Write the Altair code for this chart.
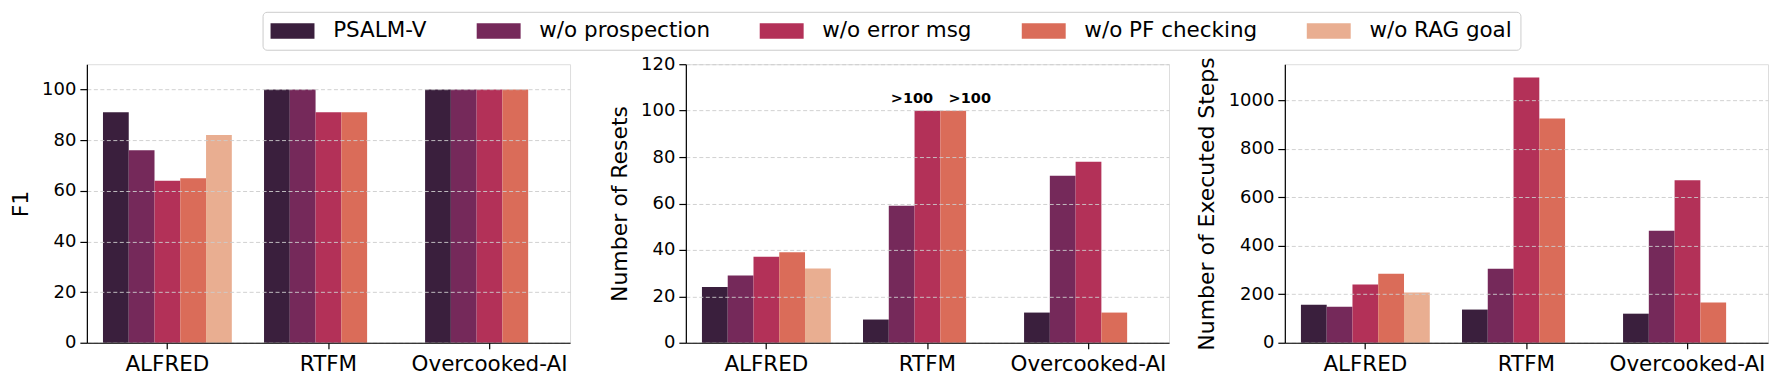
import altair as alt
import pandas as pd

categories = ["ALFRED", "RTFM", "Overcooked-AI"]
series = ["PSALM-V", "w/o prospection", "w/o error msg", "w/o PF checking", "w/o RAG goal"]
colors = ["#3a1f3d", "#75295a", "#b33158", "#da6c59", "#e9ae91"]

# values per series, in category order (None = not run)
f1_psalm = [91, 100, 100]
f1_prosp = [76, 100, 100]
f1_err = [64, 91, 100]
f1_pf = [65, 91, 100]
f1_rag = [82, None, None]

resets_psalm = [24, 10, 13]
resets_prosp = [29, 59, 72]
resets_err = [37, 100, 78]
resets_pf = [39, 100, 13]
resets_rag = [32, None, None]

steps_psalm = [157, 137, 120]
steps_prosp = [149, 305, 462]
steps_err = [240, 1095, 671]
steps_pf = [285, 926, 166]
steps_rag = [207, None, None]

over_label = ">100"
over_series = ["w/o error msg", "w/o PF checking"]
over_task = "RTFM"
over_value = 100

FONT = "DejaVu Sans"


def long_df(cols):
    rows = []
    for s, vals in zip(series, cols):
        for c, v in zip(categories, vals):
            if v is not None:
                rows.append({"task": c, "series": s, "value": v})
    return pd.DataFrame(rows)


df_f1 = long_df([f1_psalm, f1_prosp, f1_err, f1_pf, f1_rag])
df_res = long_df([resets_psalm, resets_prosp, resets_err, resets_pf, resets_rag])
df_steps = long_df([steps_psalm, steps_prosp, steps_err, steps_pf, steps_rag])

legend = alt.Legend(
    title=None,
    orient="none",
    legendX=176,
    legendY=-52.5,
    direction="horizontal",
    columns=5,
    symbolType="M-1,-0.7L3,-0.7L3,0.7L-1,0.7Z",
    symbolSize=484,
    symbolStrokeWidth=0,
    symbolOpacity=1,
    labelFontSize=21.5,
    labelFont=FONT,
    labelColor="black",
    labelOffset=40.7,
    labelLimit=400,
    columnPadding=49.5,
    padding=8,
    strokeColor="#cccccc",
    fillColor="white",
    cornerRadius=4,
)

X = alt.X(
    "task:N",
    sort=categories,
    scale=alt.Scale(domain=categories, paddingInner=0.2, paddingOuter=0.1),
    axis=alt.Axis(
        title=None, labelAngle=0, labelFontSize=21.5, labelFont=FONT, labelColor="black",
        tickColor="black", tickSize=6, tickWidth=1.2, labelPadding=5,
        domainColor="black", domainWidth=1.2, grid=False, zindex=2,
    ),
)
XO = alt.XOffset("series:N", sort=series,
                 scale=alt.Scale(domain=series, paddingInner=0, paddingOuter=0))


def yenc(title, ymax, vals):
    return alt.Y(
        "value:Q",
        scale=alt.Scale(domain=[0, ymax], nice=False, zero=True),
        axis=alt.Axis(
            title=title, values=vals, format="d", labelFontSize=18, labelFont=FONT,
            labelColor="black", tickSize=7, tickWidth=1.2, tickColor="black", labelPadding=4,
            titleFontSize=22, titleFont=FONT, titleFontWeight="normal", titleColor="black",
            titlePadding=9.3, grid=True, gridDash=[4, 2.5], gridColor="#cccccc",
            gridOpacity=0.9, gridWidth=1, domainColor="black", domainWidth=1.2, zindex=1,
        ),
    )


def bars(df, title, ymax, vals):
    return alt.Chart(df).mark_bar(strokeWidth=0).encode(
        x=X,
        xOffset=XO,
        y=yenc(title, ymax, vals),
        color=alt.Color("series:N", sort=series,
                        scale=alt.Scale(domain=series, range=colors), legend=legend),
    )


W, H = 484, 279

p1 = bars(df_f1, "F1", 110, [0, 20, 40, 60, 80, 100]).properties(width=W, height=H)

lbl_df = pd.DataFrame({"task": [over_task] * 2, "series": over_series,
                       "value": [over_value] * 2, "label": [over_label] * 2})
b2 = bars(df_res, "Number of Resets", 120, [0, 20, 40, 60, 80, 100, 120])
t_a = alt.Chart(lbl_df).transform_filter(alt.datum.series == over_series[0]).mark_text(
    font=FONT, fontSize=14.5, fontWeight="bold", color="black", align="center",
    baseline="alphabetic", dy=-7.5, dx=-15.5,
).encode(x=alt.X("task:N", sort=categories), xOffset=alt.XOffset("series:N", sort=series),
         y=alt.Y("value:Q"), text="label:N")
t_b = alt.Chart(lbl_df).transform_filter(alt.datum.series == over_series[1]).mark_text(
    font=FONT, fontSize=14.5, fontWeight="bold", color="black", align="center",
    baseline="alphabetic", dy=-7.5, dx=16.6,
).encode(x=alt.X("task:N", sort=categories), xOffset=alt.XOffset("series:N", sort=series),
         y=alt.Y("value:Q"), text="label:N")
p2 = alt.layer(b2, t_a, t_b).properties(width=W, height=H)

p3 = bars(df_steps, "Number of Executed Steps", 1150,
          [0, 200, 400, 600, 800, 1000]).properties(width=W, height=H)

chart = alt.hconcat(p1, p2, p3, spacing=116, bounds="flush").properties(
    padding={"left": 0, "top": 3, "right": 0, "bottom": 0}
).configure_view(stroke=None).configure(font=FONT)

chart.save("out.html", embed_options={"renderer": "svg", "actions": False})
